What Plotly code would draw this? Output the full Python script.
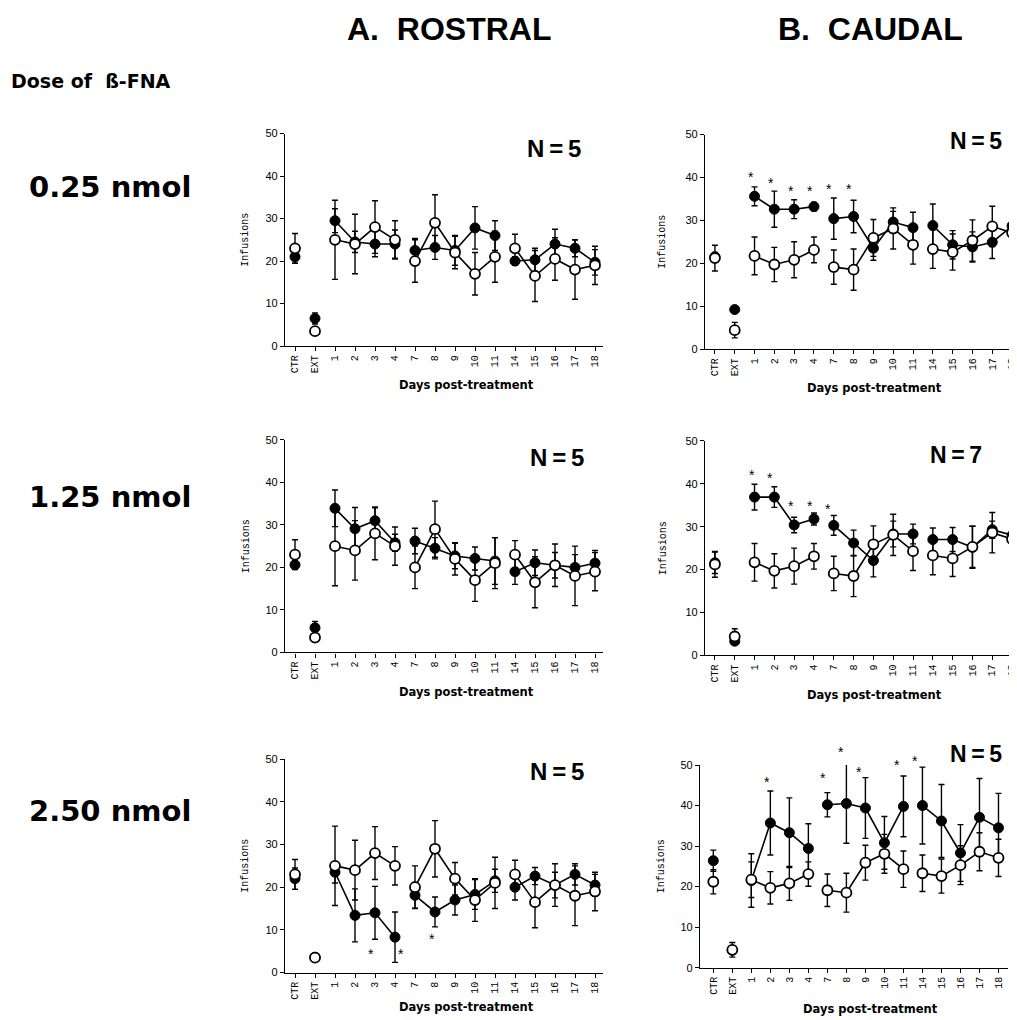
import plotly.graph_objects as go

# ---------------- data ----------------
categories = ["CTR", "EXT", "1", "2", "3", "4", "7", "8", "9", "10", "11", "14", "15", "16", "17", "18"]
segments = [["1", "2", "3", "4"], ["7", "8", "9", "10", "11"], ["14", "15", "16", "17", "18"]]
y_max = 50

# open circles (vehicle), rostral
A_open = [23, 3.5, 25, 24, 28, 25, 20, 29, 22, 17, 21, 23, 16.5, 20.5, 18, 19]
A_open_err = [3.5, 0.9, 9.3, 7, 6.2, 4.5, 5, 6.6, 3.8, 5, 6, 3.3, 6, 5, 7, 4.5]

A1_fill = [21, 6.5, 29.5, 24.5, 24, 24, 22.5, 23.2, 22.5, 27.8, 26, 20, 20.3, 24, 23, 19.7]
A1_fill_err = [1.5, 1.3, 2.8, 2.5, 3, 3.3, 2.8, 2.8, 3.5, 5, 3.5, 1, 2.7, 3.5, 2, 3]

A2_fill = [20.6, 5.8, 33.9, 29.1, 31, 25.8, 26.2, 24.5, 22.7, 22.1, 21.5, 19, 21.1, 20.5, 20, 21]
A2_fill_err = [1, 1.5, 4.3, 5, 3, 2, 3, 2.5, 3, 2.7, 5.5, 3, 3, 3, 3, 3]

A3_fill = [22, 3.6, 23.5, 13.4, 14, 8.3, 18.1, 14.2, 17, 18.3, 21.5, 20, 22.6, 20.5, 23, 20.5]
A3_fill_err = [2.5, 0.8, 2.5, 6.2, 6.2, 5.9, 3, 3.5, 3.5, 3.5, 2.7, 3, 2, 3, 2.5, 2.5]
A3_star_x = [3.78, 5.3, 6.87]
A3_star_y = [5.4, 5.4, 8.8]

# open circles (vehicle), caudal
B_open = [21.2, 4.4, 21.7, 19.7, 20.8, 23.1, 19.1, 18.5, 25.9, 28.1, 24.3, 23.3, 22.6, 25.3, 28.6, 27.1]
B_open_err = [3, 1.8, 4.4, 4, 4.2, 3, 4, 4.8, 4.3, 4.8, 4.5, 4.5, 4.2, 4.8, 4.7, 4.6]

B1_fill = [21.5, 9.2, 35.6, 32.6, 32.6, 33.2, 30.4, 30.9, 23.5, 29.6, 28.3, 28.8, 24.3, 23.8, 24.9, 28.7]
B1_fill_err = [1, 0.4, 2.2, 4.2, 2.2, 1, 4.8, 3.8, 2.8, 2.5, 3.6, 5, 3.3, 3.5, 3.8, 2.8]
B1_star_x = [1.83, 2.85, 3.83, 4.8, 5.78, 6.78]
B1_star_y = [41, 39.6, 37.7, 37.7, 38.3, 38.3]

B2_fill = [21.6, 3.3, 36.9, 36.9, 30.4, 31.8, 30.3, 26.2, 22.1, 28.3, 28.3, 27, 27, 25.2, 29.3, 28]
B2_fill_err = [2.5, 0.6, 3, 2.4, 1.8, 1.4, 2.3, 3, 3.8, 3, 2.3, 2.7, 2.8, 4.9, 2, 3.4]
B2_star_x = [1.87, 2.78, 3.85, 4.81, 5.71]
B2_star_y = [43.1, 42.3, 35.8, 35.8, 35.0]

B3_fill = [26.4, 4.3, 21.5, 35.7, 33.3, 29.4, 40.2, 40.5, 39.4, 30.8, 39.8, 40, 36.2, 28.3, 37.1, 34.5]
B3_fill_err = [2.6, 1, 6.6, 7.9, 8.6, 6.1, 3, 9.8, 7.5, 6.5, 7.5, 9.5, 9, 7, 9.6, 8.5]
B3_star_x = [2.82, 5.77, 6.7, 7.65, 9.68, 10.61]
B3_star_y = [46.7, 47.7, 54.1, 49.3, 51, 52]

n_labels = ["N=5", "N=5", "N=5", "N=7", "N=5", "N=5"]
dose_labels = ["0.25 nmol", "1.25 nmol", "2.50 nmol"]
col_titles = ["A.  ROSTRAL", "B.  CAUDAL"]

# ---------------- layout geometry (pixels) ----------------
W, H = 1017, 1020
SANS = "Liberation Sans, Arial, Helvetica, sans-serif"
WIDE = "DejaVu Sans, Liberation Sans, Arial, sans-serif"
MONO = "Liberation Mono, Courier New, Courier, monospace"

panels = [
    dict(xd=(277, 595), yd=(121, 336), xr=(-0.5, 15.4), fill=A1_fill, ferr=A1_fill_err, op=A_open, oerr=A_open_err,
         sx=[], sy=[], n=n_labels[0], ns=24, nx=517, ny=136, ix=238, dx=458, dy=375),
    dict(xd=(697, 1012), yd=(122, 339), xr=(-0.5, 15.4), fill=B1_fill, ferr=B1_fill_err, op=B_open, oerr=B_open_err,
         sx=B1_star_x, sy=B1_star_y, n=n_labels[1], ns=23, nx=940, ny=129, ix=655, dx=866, dy=378),
    dict(xd=(277, 595), yd=(431, 646), xr=(-0.5, 15.4), fill=A2_fill, ferr=A2_fill_err, op=A_open, oerr=A_open_err,
         sx=[], sy=[], n=n_labels[2], ns=24, nx=520, ny=449, ix=238, dx=458, dy=686),
    dict(xd=(697, 1012), yd=(432, 649), xr=(-0.5, 15.4), fill=B2_fill, ferr=B2_fill_err, op=B_open, oerr=B_open_err,
         sx=B2_star_x, sy=B2_star_y, n=n_labels[3], ns=23, nx=920, ny=446, ix=655, dx=866, dy=689),
    dict(xd=(277, 595), yd=(754, 970), xr=(-0.5, 15.4), fill=A3_fill, ferr=A3_fill_err, op=A_open, oerr=A_open_err,
         sx=A3_star_x, sy=A3_star_y, n=n_labels[4], ns=24, nx=520, ny=767, ix=238, dx=458, dy=1005),
    dict(xd=(692, 1000), yd=(760, 965), xr=(-0.7, 15.5), fill=B3_fill, ferr=B3_fill_err, op=B_open, oerr=B_open_err,
         sx=B3_star_x, sy=B3_star_y, n=n_labels[5], ns=23, nx=940, ny=749, ix=653, dx=862, dy=1007),
]


def px(x):
    return x / W


def py(y):
    return 1 - y / H


fig = go.Figure()
xpos = list(range(len(categories)))
idx = {c: i for i, c in enumerate(categories)}

annotations = []
for k, p in enumerate(panels):
    sfx = "" if k == 0 else str(k + 1)
    xa, ya = "x" + sfx, "y" + sfx
    # connecting lines (broken between day groups)
    for vals in (p["fill"], p["op"]):
        lx, ly = [], []
        for seg in segments:
            for c in seg:
                lx.append(idx[c])
                ly.append(vals[idx[c]])
            lx.append(None)
            ly.append(None)
        fig.add_trace(go.Scatter(x=lx, y=ly, mode="lines", line=dict(color="black", width=1.6),
                                 xaxis=xa, yaxis=ya, showlegend=False, hoverinfo="skip"))
    # filled circles (treated)
    fig.add_trace(go.Scatter(x=xpos, y=p["fill"], mode="markers",
                             marker=dict(symbol="circle", size=10, color="black", line=dict(color="black", width=1)),
                             error_y=dict(type="data", array=p["ferr"], visible=True, color="black", thickness=1.4, width=3),
                             xaxis=xa, yaxis=ya, showlegend=False, cliponaxis=False))
    # open circles
    fig.add_trace(go.Scatter(x=xpos, y=p["op"], mode="markers",
                             marker=dict(symbol="circle", size=10, color="white", line=dict(color="black", width=1.8)),
                             error_y=dict(type="data", array=p["oerr"], visible=True, color="black", thickness=1.4, width=3),
                             xaxis=xa, yaxis=ya, showlegend=False, cliponaxis=False))

    axis_common = dict(showline=True, linecolor="black", linewidth=1.2, ticks="outside", ticklen=4,
                       tickcolor="black", showgrid=False, zeroline=False)
    fig.update_layout(**{
        ("xaxis" + sfx): dict(domain=[px(p["xd"][0]), px(p["xd"][1])], range=list(p["xr"]), anchor=ya,
                              tickmode="array", tickvals=xpos, ticktext=categories, tickangle=-90,
                              tickfont=dict(family=MONO, size=10, color="black"), **axis_common),
        ("yaxis" + sfx): dict(domain=[py(p["yd"][1]), py(p["yd"][0])], range=[0, y_max], anchor=xa,
                              tickmode="array", tickvals=[0, 10, 20, 30, 40, 50],
                              tickfont=dict(family=SANS, size=11, color="black"), **axis_common),
    })

    # significance stars, placed on the y axis' own domain scale (so they may rise above 50)
    for sx, sy in zip(p["sx"], p["sy"]):
        annotations.append(dict(text="*", x=sx, y=sy / y_max, xref=xa, yref=ya + " domain", showarrow=False,
                                yshift=-4, xanchor="center", yanchor="middle",
                                font=dict(family=SANS, size=14, color="black")))

    annotations.append(dict(text="<b>" + p["n"].replace("=", "\u2009=\u2009") + "</b>", x=px(p["nx"]),
                            y=py(p["ny"]), xref="paper", yref="paper",
                            xanchor="left", yanchor="middle", showarrow=False,
                            font=dict(family=SANS, size=p["ns"], color="black")))
    annotations.append(dict(text="Infusions", x=px(p["ix"]), y=py((p["yd"][0] + p["yd"][1]) / 2), xref="paper",
                            yref="paper", textangle=-90, xanchor="center", yanchor="middle", showarrow=False,
                            font=dict(family=MONO, size=10, color="black")))
    annotations.append(dict(text="<b>Days post-treatment</b>", x=px(p["dx"]), y=py(p["dy"]), xref="paper",
                            yref="paper", xanchor="center", yanchor="middle", showarrow=False,
                            font=dict(family=WIDE, size=11.5, color="black")))

# column titles and dose labels
for t, cx in zip(col_titles, [441, 862]):
    annotations.append(dict(text="<b>" + t + "</b>", x=px(cx), y=py(15), xref="paper", yref="paper",
                            xanchor="center", yanchor="middle", showarrow=False,
                            font=dict(family=SANS, size=32, color="black")))
annotations.append(dict(text="<b>Dose of\u00a0\u00a0ß-FNA</b>", x=px(1), y=py(68), xref="paper", yref="paper",
                        xanchor="left", yanchor="middle", showarrow=False,
                        font=dict(family=WIDE, size=19, color="black")))
for t, cy in zip(dose_labels, [175, 489, 806]):
    annotations.append(dict(text="<b>" + t + "</b>", x=px(19), y=py(cy), xref="paper", yref="paper",
                            xanchor="left", yanchor="middle", showarrow=False,
                            font=dict(family=WIDE, size=29, color="black")))

fig.update_layout(width=W, height=H, margin=dict(l=0, r=0, t=0, b=0), paper_bgcolor="white",
                  plot_bgcolor="white", annotations=annotations, showlegend=False)

fig.write_html("out.html")
